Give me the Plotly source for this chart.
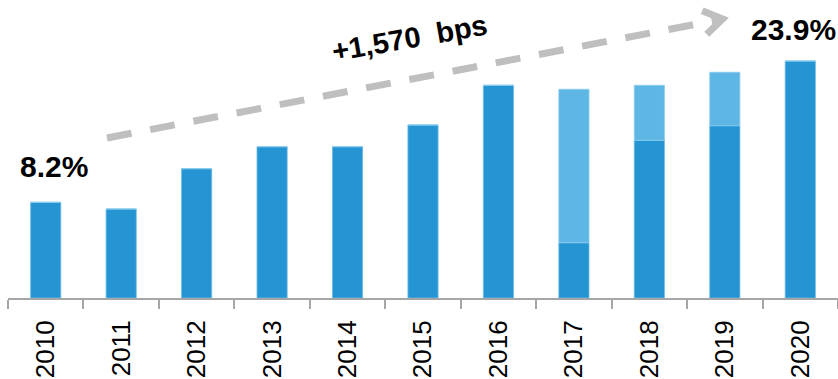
import math
import plotly.graph_objects as go

# Share by year (%): core segment and total bar height
years = ["2010", "2011", "2012", "2013", "2014", "2015",
         "2016", "2017", "2018", "2019", "2020"]
core_share = [8.2, 7.46, 11.94, 14.38, 14.38, 16.79, 21.2, 3.71, 15.09, 16.71, 23.9]
total_share = [8.2, 7.46, 11.94, 14.38, 14.38, 16.79, 21.2, 20.76, 21.2, 22.65, 23.9]
start_label = "8.2%"
end_label = "23.9%"
change_label = "+1,570  bps"

DARK = "#2494D2"
LIGHT = "#5EB6E5"
GREY_ARROW = "#BFBFBF"
AXIS_GREY = "#A6A6A6"
FONT = "Arial, Liberation Sans, sans-serif"

W, H = 838, 379
ML, MR, MT, MB = 8, 0, 0, 81
Y_FLOOR = -2.43
Y_TOP = 30.68

extra_share = [t - c for t, c in zip(total_share, core_share)]

fig = go.Figure()
fig.add_trace(go.Bar(
    x=years, y=[c - Y_FLOOR for c in core_share], base=Y_FLOOR,
    width=0.4, marker=dict(color=DARK, line=dict(color="#6DBBE6", width=0.8)),
    hoverinfo="skip",
))
fig.add_trace(go.Bar(
    x=years, y=extra_share, base=core_share,
    width=0.4, marker=dict(color=LIGHT, line=dict(color="#8ACDEE", width=0.8)),
    hoverinfo="skip",
))

# pixel -> paper helpers for the decorative trend arrow and labels
pw = W - ML - MR
ph = H - MT - MB
def px(x):
    return (x - ML) / (pw + 0.5)
def py(y):
    return (H - MB - y) / ph

x0, y0 = 107, 138
x1, y1 = 723, 19
fig.add_shape(type="line", xref="paper", yref="paper",
              x0=px(x0), y0=py(y0), x1=px(x1 - 3), y1=py(y1 + 0.6),
              line=dict(color=GREY_ARROW, width=7, dash="25px,19px"))

ang = math.atan2(y1 - y0, x1 - x0)
back = ang + math.pi
arm = 22
spread = math.radians(33)
ax1 = x1 + arm * math.cos(back + spread)
ay1 = y1 + arm * math.sin(back + spread)
ax2 = x1 + arm * math.cos(back - spread)
ay2 = y1 + arm * math.sin(back - spread)
fig.add_shape(type="path", xref="paper", yref="paper",
              path=f"M {px(ax1)} {py(ay1)} L {px(x1)} {py(y1)} L {px(ax2)} {py(ay2)}",
              line=dict(color=GREY_ARROW, width=7), fillcolor="rgba(0,0,0,0)")

fig.add_annotation(xref="paper", yref="paper", x=px(54), y=py(166),
                   xanchor="center", yanchor="middle",
                   text=f"<b>{start_label}</b>", showarrow=False,
                   font=dict(family=FONT, size=30, color="black"))
fig.add_annotation(xref="paper", yref="paper", x=px(794), y=py(29),
                   xanchor="center", yanchor="middle",
                   text=f"<b>{end_label}</b>", showarrow=False,
                   font=dict(family=FONT, size=30, color="black"))
fig.add_annotation(xref="paper", yref="paper", x=px(410), y=py(38),
                   xanchor="center", yanchor="middle",
                   text=f"<b>{change_label}</b>", showarrow=False, textangle=-10,
                   font=dict(family=FONT, size=29, color="black"))

fig.update_layout(
    width=W, height=H,
    margin=dict(l=ML, r=MR, t=MT, b=MB, pad=0),
    paper_bgcolor="white", plot_bgcolor="white",
    barmode="overlay", showlegend=False,
    font=dict(family=FONT),
)
fig.update_xaxes(
    type="category", range=[-0.5, 10.5],
    showline=True, linecolor=AXIS_GREY, linewidth=2,
    ticks="outside", tickson="boundaries", ticklen=9, tickwidth=2, tickcolor=AXIS_GREY,
    tickangle=-90, tickfont=dict(family=FONT, size=26, color="black"),
    ticklabelstandoff=10, showgrid=False, zeroline=False,
)
fig.update_yaxes(range=[Y_FLOOR, Y_TOP], visible=False, showgrid=False, zeroline=False)

fig.write_html("out.html")
